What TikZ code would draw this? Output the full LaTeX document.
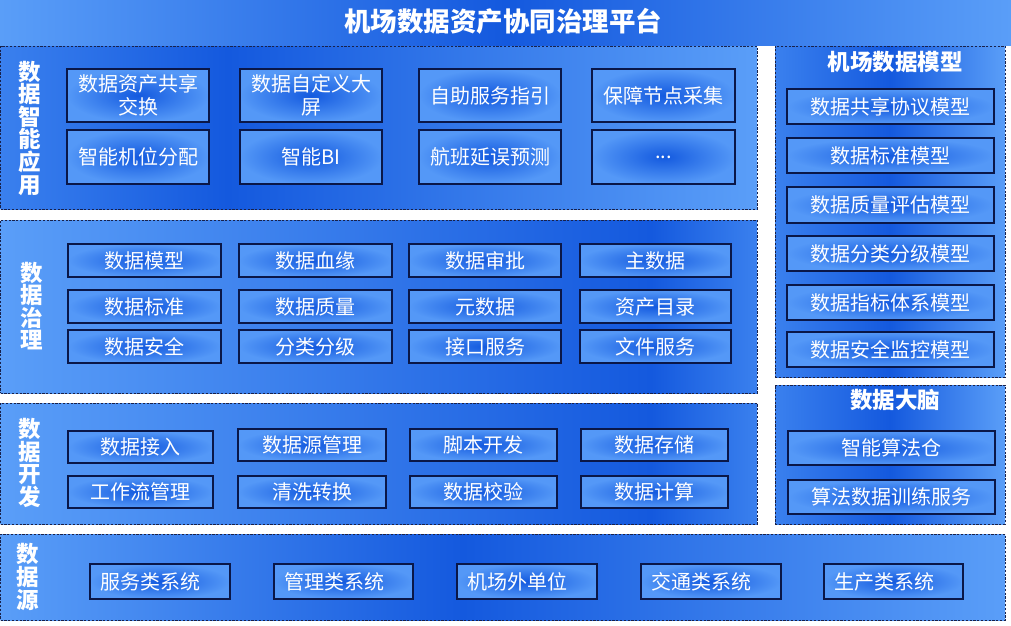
\documentclass[tikz,border=0pt]{standalone}
\usepackage{fontspec}
\setmainfont{Noto Sans CJK SC}
\definecolor{navy}{HTML}{0A1748}
\definecolor{dashc}{HTML}{18214A}
\definecolor{bL}{HTML}{5A9EF8}
\definecolor{bM}{HTML}{3A80EE}
\definecolor{bD}{HTML}{1459DE}
\definecolor{bX}{HTML}{0F52DA}
\definecolor{boxin}{HTML}{145ADF}
\definecolor{boxout}{HTML}{5498F7}
\pgfdeclarehorizontalshading{titleshade}{100bp}{color(0bp)=(bL);color(25bp)=(bL);color(50bp)=(bD);color(75bp)=(bL);color(100bp)=(bL)}
\pgfdeclarehorizontalshading{appshade}{100bp}{color(0bp)=(bM);color(25bp)=(bM);color(40bp)=(bD);color(75bp)=(bL);color(100bp)=(bL)}
\pgfdeclarehorizontalshading{govshade}{100bp}{color(0bp)=(bL);color(25bp)=(bL);color(68bp)=(bD);color(75bp)=(bM);color(100bp)=(bM)}
\pgfdeclarehorizontalshading{srcshade}{100bp}{color(0bp)=(bL);color(25bp)=(bL);color(48bp)=(bD);color(75bp)=(bL);color(100bp)=(bL)}
\pgfdeclarehorizontalshading{sideshade}{100bp}{color(0bp)=(bM);color(25bp)=(bM);color(50bp)=(bD);color(75bp)=(bL);color(100bp)=(bL)}
\tikzset{
  panel/.style={draw=dashc, line width=0.9pt, dash pattern=on 2.2pt off 1.6pt, shade, inner sep=0pt, outer sep=0pt},
  box/.style={draw=navy, line width=1.1pt, inner color=boxin, outer color=boxout, text=white,
    font=\fontsize{20}{23}\selectfont, align=center, inner sep=0pt, outer sep=0pt},
  lbl/.style={text=white, font=\bfseries\fontsize{22.5}{22.6}\selectfont, align=center, inner sep=0pt},
  ptitle/.style={text=white, font=\bfseries\fontsize{22.5}{24}\selectfont, inner sep=0pt}
}
\newcommand\bx[7][]{\node[box,#1, minimum width={(#4)-(#2)}, minimum height={(#5)-(#3)}] (#7) at ({((#2)+(#4))/2},{((#3)+(#5))/2}) {#6};}
\newcommand\pn[6]{\node[panel, shading=#6, minimum width={(#4)-(#2)}, minimum height={(#5)-(#3)}] (#1) at ({((#2)+(#4))/2},{((#3)+(#5))/2}) {};}
\begin{document}
\begin{tikzpicture}[x=1pt,y=-1pt]
\useasboundingbox (0,0) rectangle (1011,625);
% title bar
\node[shade, shading=titleshade, minimum width=1011, minimum height=45, inner sep=0pt] (tbar) at (505.5,22.5) {};
\node[text=white, font=\bfseries\fontsize{26.5}{28}\selectfont] (title) at (503,21) {机场数据资产协同治理平台};
% panels
\pn{papp}{0.5}{46}{757}{209}{appshade}
\pn{pgov}{0.5}{220}{757}{393}{govshade}
\pn{pdev}{0.5}{403}{757}{524}{govshade}
\pn{psrc}{0.5}{534}{1005}{620}{srcshade}
\pn{pmod}{775}{46}{1005}{377}{sideshade}
\pn{pbrain}{775}{385}{1005}{524}{sideshade}
% labels
\node[lbl] (lapp) at (30,128) {数\\据\\智\\能\\应\\用};
\node[lbl] (lgov) at (32,306) {数\\据\\治\\理};
\node[lbl] (ldev) at (30,463) {数\\据\\开\\发};
\node[lbl] (lsrc) at (28,577) {数\\据\\源};
\node[ptitle] (tmod) at (895,62) {机场数据模型};
\node[ptitle] (tbrain) at (895,400) {数据大脑};
% app boxes
\bx{67}{69}{209}{122}{数据资产共享\\交换}{a1}
\bx{240}{69}{382}{122}{数据自定义大\\屏}{a2}
\bx{419}{69}{561}{122}{自助服务指引}{a3}
\bx{592}{69}{735}{122}{保障节点采集}{a4}
\bx{67}{130}{209}{184}{智能机位分配}{a5}
\bx{240}{130}{382}{184}{智能BI}{a6}
\bx{419}{130}{561}{184}{航班延误预测}{a7}
\bx{592}{130}{735}{184}{...}{a8}
% governance boxes
\bx{68}{244}{221}{277}{数据模型}{g1}
\bx{239}{244}{392}{277}{数据血缘}{g2}
\bx{409}{244}{561}{277}{数据审批}{g3}
\bx{580}{244}{731}{277}{主数据}{g4}
\bx{68}{290}{221}{323}{数据标准}{g5}
\bx{239}{290}{392}{323}{数据质量}{g6}
\bx{409}{290}{561}{323}{元数据}{g7}
\bx{580}{290}{731}{323}{资产目录}{g8}
\bx{68}{330}{221}{363}{数据安全}{g9}
\bx{239}{330}{392}{363}{分类分级}{g10}
\bx{409}{330}{561}{363}{接口服务}{g11}
\bx{580}{330}{731}{363}{文件服务}{g12}
% dev boxes
\bx{68}{431}{213}{463}{数据接入}{d1}
\bx{238}{429}{386}{461}{数据源管理}{d2}
\bx{410}{429}{557}{461}{脚本开发}{d3}
\bx{581}{429}{728}{461}{数据存储}{d4}
\bx{68}{476}{213}{508}{工作流管理}{d5}
\bx{238}{476}{386}{508}{清洗转换}{d6}
\bx{410}{476}{557}{508}{数据校验}{d7}
\bx{581}{476}{728}{508}{数据计算}{d8}
% source boxes
\bx[text width=120, align=left]{90}{564}{230}{599}{服务类系统}{s1}
\bx[text width=119, align=left]{274}{564}{413}{599}{管理类系统}{s2}
\bx[text width=120, align=left]{457}{564}{597}{599}{机场外单位}{s3}
\bx[text width=120, align=left]{641}{564}{781}{599}{交通类系统}{s4}
\bx[text width=119, align=left]{824}{564}{963}{599}{生产类系统}{s5}
% model boxes
\bx{787}{89}{994}{124}{数据共享协议模型}{m1}
\bx{787}{138}{994}{173}{数据标准模型}{m2}
\bx{787}{187}{994}{223}{数据质量评估模型}{m3}
\bx{787}{236}{994}{271}{数据分类分级模型}{m4}
\bx{787}{285}{994}{320}{数据指标体系模型}{m5}
\bx{787}{332}{994}{367}{数据安全监控模型}{m6}
% brain boxes
\bx{788}{431}{995}{465}{智能算法仓}{b1}
\bx{788}{480}{995}{514}{算法数据训练服务}{b2}
\end{tikzpicture}
\end{document}
